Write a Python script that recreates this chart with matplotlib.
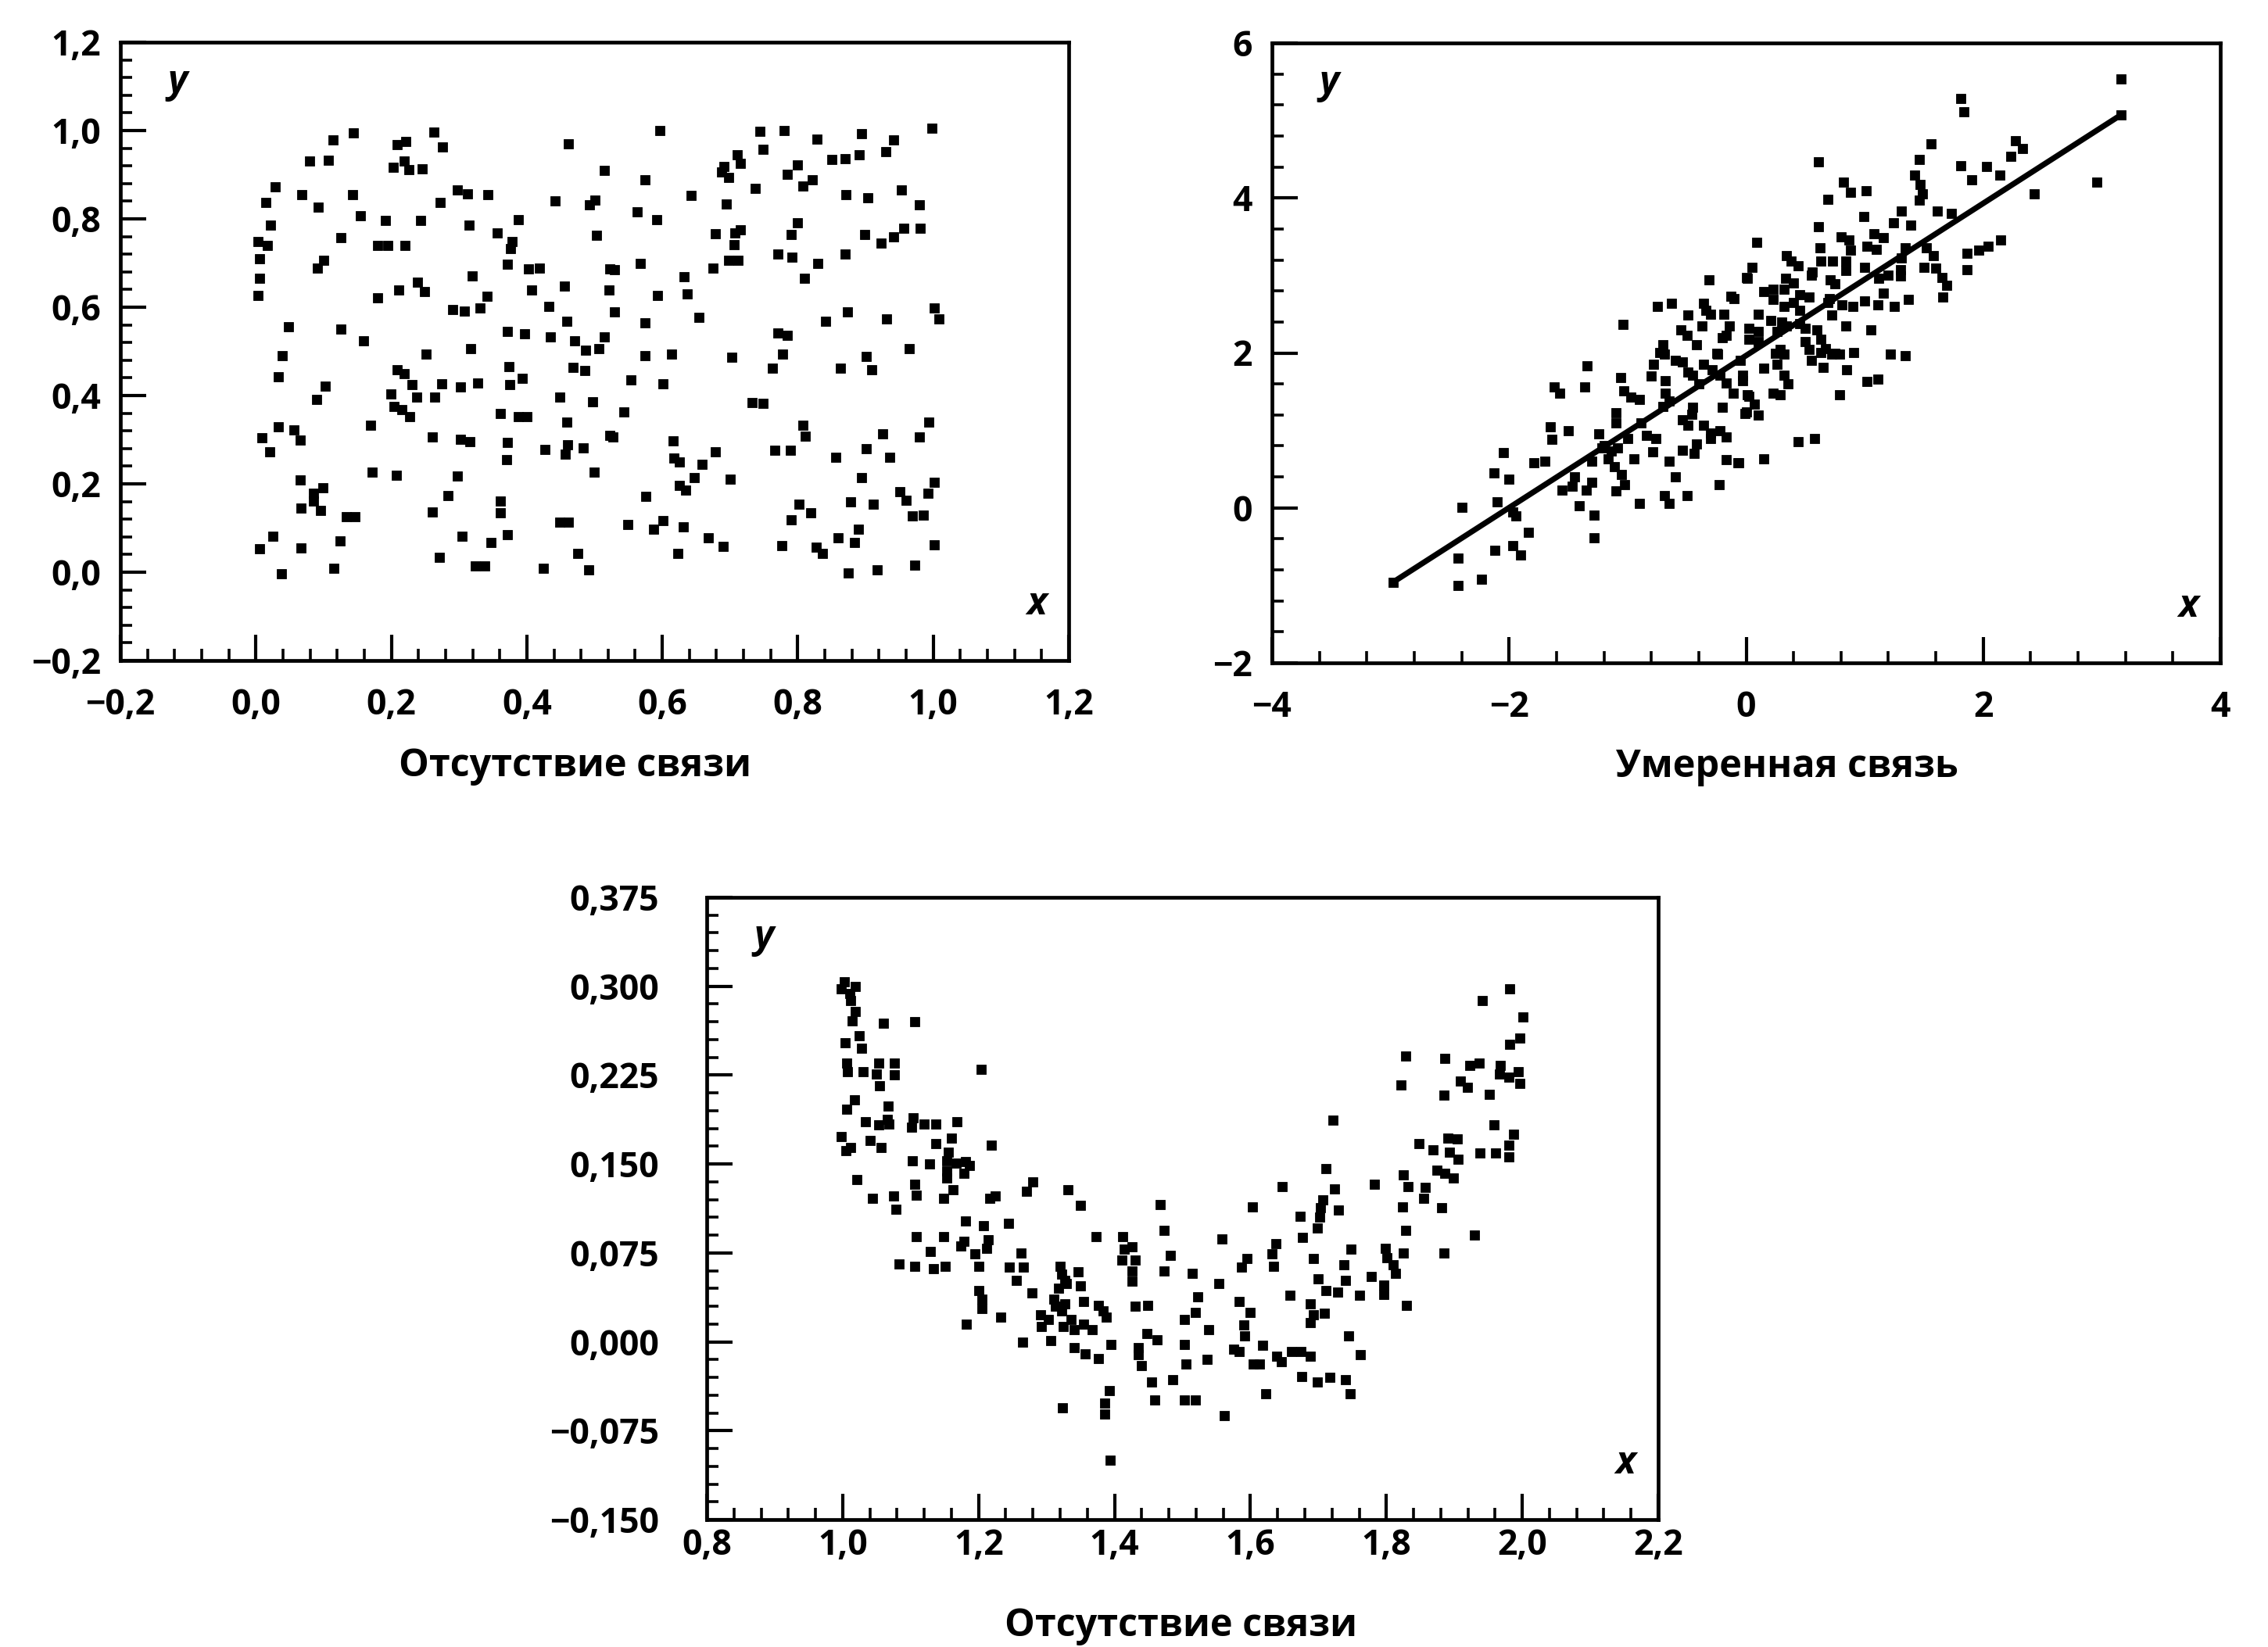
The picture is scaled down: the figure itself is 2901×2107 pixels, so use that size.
import matplotlib
matplotlib.use("Agg")
import matplotlib.pyplot as plt
from matplotlib.ticker import MultipleLocator, FuncFormatter
import numpy as np

plt.rcParams['font.family'] = ['Open Sans', 'DejaVu Sans']

# ---------------- Panel 1: no relation (uniform cloud) ----------------
p1_x = [0.114,0.144,0.209,0.221,0.263,0.275,0.461,0.079,0.107,0.219,0.203,0.226,0.245,0.515,0.029,0.015,0.068,0.092,0.143,0.297,
        0.313,0.343,0.272,0.442,0.501,0.492,0.022,0.154,0.191,0.243,0.315,0.388,0.356,0.503,0.003,0.017,0.126,0.180,0.195,0.220,
        0.378,0.376,0.006,0.100,0.091,0.371,0.402,0.419,0.522,0.005,0.319,0.239,0.249,0.211,0.407,0.456,0.521,0.003,0.180,0.341,
        0.291,0.308,0.331,0.433,0.048,0.125,0.159,0.371,0.397,0.435,0.459,0.471,0.515,0.039,0.251,0.317,0.487,0.506,
        0.033,0.102,0.090,0.209,0.219,0.231,0.237,0.264,0.274,0.302,0.328,0.374,0.393,0.375,0.468,0.486,0.449,0.497,0.199,0.204,
        0.216,0.227,0.361,0.388,0.400,0.459,0.169,0.033,0.056,0.066,0.009,0.021,0.261,0.302,0.316,0.371,0.370,0.427,0.460,0.457,
        0.483,0.522,0.172,0.207,0.298,0.499,0.066,0.099,0.085,0.085,0.067,0.095,0.133,0.146,0.284,0.261,0.361,0.361,0.449,0.461,
        0.025,0.006,0.067,0.124,0.304,0.347,0.371,0.271,0.324,0.338,0.475,0.424,0.491,0.038,0.115,
        0.596,0.744,0.780,0.828,0.894,0.942,0.998,0.749,0.711,0.715,0.691,0.688,0.698,0.737,0.784,0.800,0.822,0.808,0.850,0.870,
        0.891,0.930,0.575,0.643,0.694,0.871,0.903,0.953,0.980,0.563,0.592,0.800,0.790,0.678,0.715,0.707,0.706,0.698,0.712,0.675,
        0.899,0.923,0.941,0.957,0.981,0.568,0.529,0.632,0.771,0.791,0.830,0.870,0.810,0.593,0.637,0.530,0.574,0.654,0.841,0.873,
        0.931,1.002,1.008,0.771,0.785,0.965,0.574,0.614,0.777,0.901,0.702,
        0.763,0.863,0.909,0.554,0.601,0.733,0.749,0.543,0.527,0.616,0.617,0.625,0.678,0.659,0.647,0.625,0.634,0.700,0.576,0.808,
        0.811,0.766,0.789,0.856,0.901,0.925,0.936,0.979,0.993,0.894,0.951,0.960,1.002,0.992,0.802,0.819,0.790,0.878,0.912,0.969,
        0.985,0.549,0.587,0.601,0.631,0.668,0.690,0.623,0.776,0.827,0.836,0.859,0.889,0.884,1.001,0.875,0.917,0.973]
p1_y = [0.978,0.994,0.969,0.975,0.996,0.963,0.970,0.931,0.933,0.931,0.916,0.912,0.913,0.910,0.872,0.837,0.854,0.827,0.854,0.866,
        0.856,0.854,0.837,0.841,0.842,0.831,0.786,0.807,0.797,0.797,0.786,0.799,0.769,0.763,0.748,0.739,0.757,0.739,0.740,0.740,
        0.748,0.733,0.710,0.707,0.689,0.698,0.686,0.689,0.686,0.665,0.671,0.657,0.636,0.639,0.639,0.648,0.639,0.626,0.621,0.624,
        0.595,0.592,0.598,0.601,0.556,0.550,0.524,0.545,0.539,0.533,0.568,0.524,0.533,0.491,0.494,0.506,0.503,0.506,
        0.443,0.421,0.392,0.459,0.449,0.424,0.397,0.397,0.426,0.419,0.428,0.465,0.439,0.425,0.463,0.456,0.397,0.386,0.403,0.376,
        0.368,0.353,0.359,0.353,0.353,0.339,0.332,0.329,0.323,0.300,0.304,0.273,0.306,0.301,0.296,0.294,0.255,0.277,0.288,0.267,
        0.282,0.309,0.226,0.220,0.217,0.227,0.208,0.191,0.179,0.161,0.146,0.139,0.126,0.126,0.173,0.137,0.161,0.134,0.113,0.113,
        0.081,0.053,0.055,0.071,0.081,0.067,0.085,0.034,0.014,0.014,0.043,0.009,0.006,-0.004,0.009,
        1.000,0.999,1.000,0.981,0.993,0.978,1.006,0.958,0.946,0.925,0.919,0.907,0.893,0.869,0.901,0.922,0.888,0.874,0.935,0.937,
        0.945,0.952,0.888,0.853,0.834,0.854,0.848,0.866,0.831,0.816,0.798,0.791,0.764,0.766,0.775,0.769,0.742,0.707,0.707,0.689,
        0.764,0.746,0.760,0.778,0.779,0.699,0.685,0.669,0.720,0.713,0.699,0.720,0.665,0.627,0.630,0.589,0.565,0.577,0.569,0.589,
        0.573,0.598,0.574,0.542,0.536,0.506,0.491,0.494,0.493,0.489,0.486,
        0.462,0.462,0.459,0.435,0.427,0.384,0.382,0.362,0.307,0.297,0.258,0.250,0.273,0.244,0.214,0.196,0.185,0.211,0.172,0.332,
        0.308,0.276,0.276,0.261,0.280,0.313,0.260,0.306,0.339,0.215,0.183,0.162,0.203,0.179,0.154,0.134,0.119,0.160,0.154,0.127,
        0.129,0.108,0.097,0.117,0.103,0.077,0.058,0.043,0.060,0.056,0.043,0.078,0.097,0.068,0.062,-0.001,0.006,0.016]

# ---------------- Panel 2: moderate relation ----------------
p2_x = [3.16,1.81,1.84,3.16,1.56,2.27,2.33,2.23,1.46,0.61,1.81,2.03,2.14,1.90,1.42,1.47,1.49,1.46,0.82,0.88,
        1.01,0.69,2.96,2.43,1.61,1.73,1.31,0.99,1.24,1.39,0.61,0.09,1.08,1.16,0.87,0.88,1.02,1.10,1.34,1.31,
        1.52,1.58,1.86,1.96,2.04,2.15,0.62,0.63,0.73,0.84,0.84,0.34,0.38,0.44,0.56,0.01,1.86,1.60,1.65,1.69,
        1.66,1.30,1.30,1.12,1.16,1.11,1.00,1.37,0.71,0.75,0.33,0.32,0.15,0.23,0.45,0.53,0.23,0.32,0.40,0.69,
        0.72,0.81,0.84,0.02,0.10,0.02,0.10,0.21,0.26,0.34,0.45,0.50,0.29,0.50,0.53,0.63,0.67,0.72,0.91,1.22,1.34,
        -0.31,-0.00,-0.13,-0.63,-0.36,-0.34,-0.49,-0.19,-0.14,-0.17,-0.37,-1.04,-0.50,-0.42,-0.25,-0.70,-0.69,
        -2.98,-2.43,-2.23,-2.43,-2.12,-1.97,-1.90,-1.84,-2.40,-2.10,-1.94,-1.97,-2.13,-2.00,-2.05,-1.79,-1.65,-1.64,-1.62,-1.57,
        -1.36,-1.34,-1.10,-1.41,-1.28,-1.28,-1.55,-1.47,-1.35,-1.30,-1.243,-1.216,-1.162,-1.109,-1.055,-1.028,-1.095,-1.135,-1.082,-0.947,
        -0.90,-0.79,-0.65,-0.69,-0.65,-0.50,-1.06,-1.03,-0.97,-0.89,-0.84,-0.76,-0.68,-0.68,-0.65,-0.70,-0.78,-0.73,-0.54,-0.49,
        -0.46,-0.54,-0.44,-0.42,-0.36,-0.30,-0.22,-0.17,-0.54,-0.49,-0.45,-0.36,-0.29,-0.22,-0.17,-0.11,-0.03,0.01,-0.24,-0.17,
        -0.07,-0.23,-0.00,
        0.63,0.65,0.79,0.85,1.02,1.11,0.79,0.23,0.29,0.32,0.26,0.32,-0.03,0.02,0.07,-0.01,0.44,0.58,0.15,-0.06,
        -0.20,0.10,0.30,0.45,0.60,0.25,-0.05,0.15,-0.40,-0.60,-0.80,-0.90,-1.10,-1.20,-1.30,-1.00,0.40,0.55,0.70,0.90,
        1.00,0.80,1.20,1.50,-0.30,-0.55,-0.75,-0.10,0.05,-0.20,-0.45,0.35,0.55,0.75,1.05,1.25,-1.50,-1.70,-1.45,-0.60,
        -0.30,0.10]
p2_y = [5.54,5.28,5.11,5.07,4.70,4.74,4.64,4.54,4.50,4.47,4.42,4.41,4.30,4.23,4.30,4.17,4.05,3.97,4.20,4.07,
        4.09,3.98,4.20,4.05,3.83,3.80,3.83,3.76,3.68,3.65,3.63,3.43,3.54,3.49,3.46,3.33,3.38,3.34,3.36,3.23,
        3.36,3.26,3.29,3.33,3.38,3.46,3.36,3.19,3.19,3.19,3.06,3.26,3.19,3.12,3.04,2.96,3.07,3.09,2.97,2.87,
        2.72,3.07,2.99,2.96,2.77,2.62,2.67,2.69,2.94,2.89,2.96,2.82,2.79,2.82,2.75,2.72,2.69,2.60,2.65,2.65,
        2.49,2.62,2.35,2.32,2.28,2.18,2.15,2.42,2.28,2.35,2.38,2.32,2.05,2.15,2.05,2.18,2.06,1.98,2.01,1.98,1.96,
        2.94,2.97,2.73,2.64,2.64,2.55,2.49,2.50,2.35,2.23,2.35,2.37,2.23,2.11,2.00,2.11,1.98,
        -0.96,-1.00,-0.92,-0.65,-0.55,-0.49,-0.61,-0.32,0.01,0.08,-0.10,-0.05,0.45,0.37,0.71,0.58,1.05,0.89,1.56,1.48,
        1.56,1.83,1.23,0.03,-0.09,-0.39,0.23,0.28,0.23,0.33,0.955,0.770,0.635,0.534,0.433,0.299,0.215,0.736,0.770,0.635,
        0.06,0.72,0.60,0.16,0.06,0.16,1.68,1.51,1.43,1.10,0.94,0.90,1.64,1.48,1.38,1.31,1.85,2.01,1.14,1.07,
        1.21,0.74,0.70,0.82,1.07,0.97,1.00,0.92,1.88,1.75,1.71,1.85,1.78,1.71,1.61,1.48,1.64,1.46,1.98,0.62,
        0.58,0.30,1.24,
        2.01,1.81,1.98,1.78,1.63,1.66,1.46,1.48,1.46,1.98,1.85,1.71,1.71,1.44,1.34,1.22,0.85,0.90,0.63,0.58,
        2.20,2.50,2.40,2.55,2.30,2.00,1.90,1.80,1.60,1.90,1.70,1.40,1.10,0.80,0.60,0.90,2.90,3.00,2.70,2.60,
        3.10,3.50,3.00,3.10,2.50,2.30,2.60,2.70,3.10,1.30,1.30,1.60,1.90,2.00,2.30,2.60,1.00,0.60,0.40,0.40,
        0.90,1.20]
line_x = [-2.98, 3.16]
line_y = [-0.96, 5.07]

# ---------------- Panel 3: no (linear) relation, U-shape ----------------
p3_x = [1.003,1.019,1.010,1.012,0.998,1.019,1.014,1.060,1.106,1.004,1.024,1.028,1.006,1.007,1.030,1.053,1.050,1.054,1.076,1.076,
        1.204,1.017,1.006,1.067,1.033,1.053,1.066,1.068,1.104,1.101,1.120,1.137,1.168,0.998,1.012,1.005,1.040,1.057,1.137,1.160,
        1.219,1.155,1.153,1.102,1.128,1.167,1.181,1.186,1.179,1.153,1.153,1.021,1.106,1.108,1.162,1.148,1.044,1.075,1.217,1.224,
        1.280,1.271,1.331,1.350,1.467,1.078,
        1.982,1.941,2.001,1.996,1.982,1.829,1.886,1.923,1.936,1.968,1.966,1.980,1.994,1.996,1.909,1.919,1.821,1.885,1.951,1.722,
        1.958,1.987,1.848,1.890,1.904,1.869,1.893,1.906,1.938,1.961,1.980,1.980,1.711,1.874,1.886,1.899,1.825,1.832,1.782,1.857,
        1.855,1.647,1.724,1.706,1.703,1.603,1.824,1.881,1.730,
        1.181,1.207,1.244,1.108,1.148,1.174,1.179,1.214,1.212,1.195,1.129,1.083,1.106,1.134,1.151,1.200,1.263,1.245,1.266,1.255,
        1.373,1.473,1.412,1.414,1.426,1.430,1.411,1.426,1.426,1.482,1.473,1.320,1.322,1.327,1.346,1.350,1.318,1.329,1.200,1.205,
        1.205,1.278,1.311,1.313,1.327,1.322,1.354,1.376,1.383,1.388,1.430,1.449,1.291,1.232,1.303,1.292,1.325,1.336,1.341,1.355,
        1.367,1.503,1.182,1.448,1.463,1.265,1.306,1.341,1.357,1.376,1.395,1.435,1.435,1.440,1.503,1.505,1.455,1.486,1.392,1.459,
        1.503,1.323,1.386,1.386,1.394,
        1.702,1.698,1.673,1.828,1.930,1.885,1.558,1.637,1.632,1.634,1.677,1.595,1.587,1.514,1.554,1.693,1.748,1.738,1.799,1.801,
        1.810,1.813,1.825,1.700,1.740,1.778,1.711,1.728,1.760,1.796,1.796,1.658,1.522,1.583,1.830,1.599,1.688,1.693,1.688,1.709,
        1.519,1.539,1.590,1.591,1.744,1.575,1.583,1.618,1.639,1.646,1.660,1.674,1.688,1.762,1.536,1.604,1.613,1.676,1.698,1.717,
        1.740,1.747,1.623,1.519,1.562]
p3_y = [0.304,0.300,0.294,0.288,0.298,0.279,0.271,0.269,0.270,0.252,0.258,0.248,0.235,0.228,0.228,0.235,0.226,0.216,0.235,0.225,
        0.230,0.204,0.196,0.199,0.186,0.183,0.188,0.184,0.189,0.181,0.184,0.184,0.186,0.173,0.164,0.161,0.170,0.164,0.167,0.172,
        0.166,0.160,0.153,0.153,0.150,0.151,0.152,0.149,0.142,0.144,0.138,0.137,0.133,0.124,0.128,0.121,0.121,0.123,0.121,0.123,
        0.135,0.127,0.128,0.115,0.116,0.112,
        0.298,0.288,0.274,0.256,0.251,0.241,0.239,0.233,0.235,0.233,0.226,0.223,0.228,0.218,0.220,0.215,0.217,0.208,0.209,0.187,
        0.183,0.175,0.167,0.172,0.171,0.162,0.160,0.154,0.159,0.159,0.166,0.156,0.146,0.145,0.142,0.138,0.141,0.131,0.133,0.130,
        0.121,0.131,0.129,0.120,0.113,0.114,0.114,0.113,0.111,
        0.102,0.098,0.100,0.089,0.089,0.081,0.085,0.086,0.079,0.074,0.076,0.066,0.064,0.062,0.064,0.064,0.075,0.063,0.063,0.052,
        0.089,0.094,0.089,0.078,0.080,0.069,0.069,0.060,0.051,0.073,0.060,0.064,0.057,0.052,0.059,0.047,0.045,0.049,0.043,0.036,
        0.028,0.041,0.036,0.030,0.032,0.026,0.034,0.031,0.026,0.021,0.030,0.031,0.023,0.021,0.019,0.013,0.013,0.019,0.010,0.015,
        0.010,0.019,0.015,0.007,0.002,-0.000,0.001,-0.005,-0.010,-0.014,-0.002,-0.005,-0.011,-0.020,-0.002,-0.019,-0.034,-0.032,-0.041,-0.049,
        -0.049,-0.056,-0.052,-0.061,-0.100,
        0.105,0.096,0.106,0.094,0.090,0.075,0.087,0.083,0.074,0.064,0.088,0.070,0.063,0.058,0.049,0.070,0.078,0.065,0.079,0.071,
        0.065,0.058,0.075,0.053,0.052,0.055,0.043,0.042,0.039,0.048,0.040,0.039,0.038,0.034,0.031,0.025,0.032,0.023,0.016,0.024,
        0.025,0.010,0.014,0.005,0.005,-0.006,-0.008,-0.003,-0.012,-0.017,-0.008,-0.008,-0.012,-0.011,-0.015,-0.019,-0.019,-0.029,-0.034,-0.030,
        -0.032,-0.044,-0.044,-0.049,-0.062]

p1_xticks = [-0.2, 0.0, 0.2, 0.4, 0.6, 0.8, 1.0, 1.2]
p1_yticks = [-0.2, 0.0, 0.2, 0.4, 0.6, 0.8, 1.0, 1.2]
p2_xticks = [-4, -2, 0, 2, 4]
p2_yticks = [-2, 0, 2, 4, 6]
p3_xticks = [0.8, 1.0, 1.2, 1.4, 1.6, 1.8, 2.0, 2.2]
p3_yticks = [-0.150, -0.075, 0.000, 0.075, 0.150, 0.225, 0.300, 0.375]

label_nolink = "Отсутствие связи"
label_moderate = "Умеренная связь"


def fmt(decimals):
    def f(v, pos):
        s = f"{abs(v):.{decimals}f}".replace('.', ',')
        if v < -1e-12:
            s = "\u2212" + s
        return s
    return FuncFormatter(f)


W, H = 2901, 2107
fig = plt.figure(figsize=(W / 200, H / 200), dpi=200)

TICKFS = 16
LABFS = 17.5
WEIGHT = 'bold'


def style(ax, xt, yt, xminor, yminor, xdec, ydec, xpad, ypad):
    ax.set_xticks(xt)
    ax.set_yticks(yt)
    ax.xaxis.set_minor_locator(MultipleLocator(xminor))
    ax.yaxis.set_minor_locator(MultipleLocator(yminor))
    ax.xaxis.set_major_formatter(fmt(xdec))
    ax.yaxis.set_major_formatter(fmt(ydec))
    ax.tick_params(which='both', direction='in', top=False, right=False, color='black')
    ax.tick_params(which='major', length=12, width=1.5)
    ax.tick_params(which='minor', length=5.5, width=1.3)
    ax.tick_params(axis='x', which='major', pad=xpad, labelsize=TICKFS)
    ax.tick_params(axis='y', which='major', pad=ypad, labelsize=TICKFS)
    for lab in ax.get_xticklabels() + ax.get_yticklabels():
        lab.set_fontweight(WEIGHT)
    for sp in ax.spines.values():
        sp.set_linewidth(1.7)
    ax.set_xlim(xt[0], xt[-1])
    ax.set_ylim(yt[0], yt[-1])


def corner_labels(ax):
    ax.text(0.06, 0.935, "y", transform=ax.transAxes, fontsize=LABFS, style='italic',
            fontweight=WEIGHT, ha='center', va='center')
    ax.text(0.966, 0.09, "x", transform=ax.transAxes, fontsize=LABFS, style='italic',
            fontweight=WEIGHT, ha='center', va='center')


def xlabel(ax, text, xfrac, yfrac):
    ax.set_xlabel(text, fontsize=LABFS, fontweight=WEIGHT)
    ax.xaxis.set_label_coords(xfrac, yfrac)
    ax.xaxis.label.set_verticalalignment('center')


MS = 4.2

# Panel 1
ax1 = fig.add_axes([154 / W, 1 - 845 / H, (1367 - 154) / W, (845 - 54) / H])
ax1.plot(p1_x, p1_y, 's', ms=MS, color='black', mec='black', mew=0.3, linestyle='none')
style(ax1, p1_xticks, p1_yticks, 0.04, 0.04, 1, 1, 12.5, 9)
corner_labels(ax1)
xlabel(ax1, label_nolink, 0.479, -0.171)

# Panel 2
ax2 = fig.add_axes([1627 / W, 1 - 848 / H, (2840 - 1627) / W, (848 - 55) / H])
ax2.plot(p2_x, p2_y, 's', ms=MS, color='black', mec='black', mew=0.3, linestyle='none')
ax2.plot(line_x, line_y, '-', color='black', lw=2.6, solid_capstyle='round')
style(ax2, p2_xticks, p2_yticks, 0.4, 0.4, 0, 0, 12.5, 9)
corner_labels(ax2)
xlabel(ax2, label_moderate, 0.543, -0.168)

# Panel 3
ax3 = fig.add_axes([904 / W, 1 - 1944 / H, (2121 - 904) / W, (1944 - 1148) / H])
ax3.plot(p3_x, p3_y, 's', ms=MS, color='black', mec='black', mew=0.3, linestyle='none')
style(ax3, p3_xticks, p3_yticks, 0.04, 0.015, 1, 3, 4, 22)
corner_labels(ax3)
xlabel(ax3, label_nolink, 0.498, -0.172)

fig.savefig("out.png", dpi=200, facecolor='white')
